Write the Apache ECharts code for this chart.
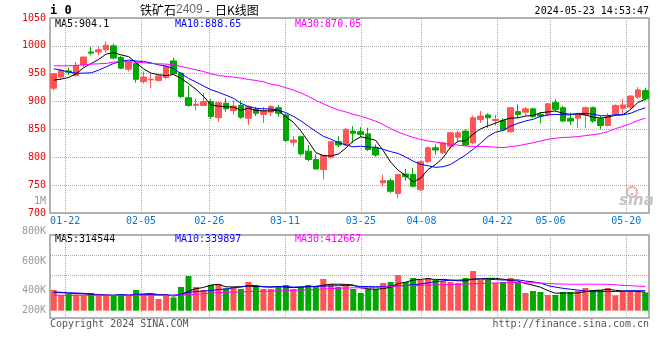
<!DOCTYPE html>
<html><head><meta charset="utf-8">
<script src="https://cdn.jsdelivr.net/npm/echarts@6/dist/echarts.min.js"></script>
<style>html,body{margin:0;padding:0;background:#fff}#c{width:660px;height:360px}</style>
</head><body><div id="c"></div>
<script>
// ---- data ----
const dates = ['01-18','01-19','01-22','01-23','01-24','01-25','01-26','01-29','01-30','01-31',
'02-01','02-02','02-05','02-06','02-07','02-08','02-19','02-20','02-21','02-22','02-23','02-26','02-27','02-28','02-29',
'03-01','03-04','03-05','03-06','03-07','03-08','03-11','03-12','03-13','03-14','03-15','03-18','03-19','03-20','03-21','03-22','03-25','03-26','03-27','03-28','03-29',
'04-01','04-02','04-03','04-08','04-09','04-10','04-11','04-12','04-15','04-16','04-17','04-18','04-19','04-22','04-23','04-24','04-25','04-26','04-29','04-30',
'05-06','05-07','05-08','05-09','05-10','05-13','05-14','05-15','05-16','05-17','05-20','05-21','05-22','05-23'];
const open  = [924,944,955,947,966,989,989,993,1000,979,958,968,936,939,938,943,973,951,907,893,893,900,871,897,884,893,870,886,877,881,889,876,827,837,811,796,778,800,828,822,847,846,842,817,754,758,735,770,769,742,792,817,808,820,836,847,826,868,876,866,866,846,882,881,887,877,877,898,889,870,870,876,889,869,857,878,888,890,908,920];
const close = [950,956,953,965,980,987,993,1001,978,960,971,940,944,940,946,963,950,909,893,895,900,873,898,887,892,872,891,879,883,891,879,830,831,806,796,779,803,828,822,850,843,841,814,804,758,739,769,765,748,792,817,813,826,844,844,822,871,874,871,868,849,889,877,887,873,874,896,886,865,865,876,889,865,857,873,893,894,910,921,905];
const low   = [920,940,948,945,961,983,983,988,976,958,954,934,932,924,936,940,948,906,891,884,892,869,864,882,876,869,858,874,862,874,873,828,820,803,793,778,760,798,818,821,826,836,811,801,748,736,726,758,746,740,790,805,806,815,828,820,823,862,853,857,847,844,870,874,871,861,874,882,863,858,853,852,862,851,855,876,878,886,905,902];
const high  = [951,958,961,971,980,998,998,1008,1004,982,973,972,954,950,948,965,979,953,928,905,915,905,900,906,902,902,893,890,890,894,894,879,838,839,822,805,805,829,838,853,856,854,853,823,769,762,770,779,781,794,820,823,828,846,848,850,875,883,879,876,870,890,895,890,889,881,897,904,892,880,877,891,891,874,879,895,905,911,926,925];
const ma5  = [938.5,940.3,943.3,949.8,960.8,968.2,975.6,985.2,987.8,983.8,980.6,970,958.6,951,948.2,946.6,948.6,941.6,932.2,922,909.4,894,891.8,890.6,890,884.4,888,884.2,883.4,883.2,884.6,872.4,862.8,847.4,828.4,808.4,803,802.4,805.6,816.4,829.2,836.8,834,830.4,812,791.2,776.8,767,755.8,762.6,778.2,787,799.2,818.4,828.8,829.8,841.4,851,856.4,861.2,866.6,870.2,870.8,874,875,880,881.4,883.2,878.8,877.2,877.6,876.2,872,870.4,872,875.4,876.4,885.4,898.2,904.1];
const ma10 = [958.8,956.4,952.8,951,951,951.6,956.4,962.4,968.4,972.3,974.4,972.8,971.9,969.4,966,963.6,959.3,950.1,941.6,935.1,928,921.3,916.7,911.4,906,896.9,891,888,887,886.6,884.5,880.2,873.5,865.4,855.8,846.5,837.7,832.6,826.5,822.4,818.8,819.9,818.2,818,814.2,810.2,806.8,800.5,793.1,787.3,784.7,781.9,783.1,787.1,795.7,804,814.2,825.1,837.4,845,848.2,855.8,860.9,865.2,868.1,873.3,875.8,877,876.4,876.1,878.8,878.8,877.6,874.6,874.6,876.5,876.3,878.7,884.3,888.65];
const ma30 = [964.2,964.2,964.2,964.8,966,967.2,967.8,968.4,970.8,972,971.4,970.8,969.6,968.4,967.8,967.2,966,963,960,957,954,949.8,946.8,945.1,943.9,942.1,939.7,937.9,935.5,931.3,929,924.8,920.7,915.4,909.3,902.3,896,890.2,885,881.4,877.1,873.8,869.5,864.9,858.7,851.2,845.2,840.4,835.5,832.1,829.3,827.3,824.9,823.5,821.9,820.2,819.6,819.4,819,818.2,817.2,819.2,820.7,823.4,826,829.2,832.3,834.2,835.6,836.1,837.2,838.8,840.5,842.3,846.1,851.3,855.4,860.3,866,870.05];
// volume in thousand lots
const volume = [352,260,284,272,260,301,250,250,250,284,250,352,284,284,199,250,226,403,590,403,352,437,454,379,403,369,488,413,369,369,420,437,369,403,437,420,539,454,403,420,369,301,369,369,471,488,607,488,556,522,556,522,505,488,471,556,675,522,522,471,488,556,488,301,335,318,267,267,318,318,340,386,352,352,386,260,335,335,335,310];
const vma5  = [317,312,300,292,285.6,275.4,273.4,266.6,262.2,267,256.8,277.2,284,290.8,273.8,273.8,248.6,272.4,333.6,374.4,394.8,437,447.2,405,405,408.4,418.6,410.4,408.4,401.6,411.8,401.6,392.8,399.6,413.2,413.2,433.6,450.6,450.6,447.2,437,389.4,372.4,365.6,375.8,399.6,460.8,484.6,522,532.2,545.8,528.8,532.2,518.6,508.4,508.4,539,542.4,549.2,549.2,535.6,511.8,505,460.8,433.6,399.6,341.8,297.6,301,297.6,302,325.8,342.8,349.6,363.2,347.2,337,333.6,330.2,314.544];
const vma10 = [306,306,303,300,295,285,270,265,262,276.3,266.1,275.3,275.3,276.5,270.4,265.3,262.9,278.2,312.2,324.1,334.3,342.8,359.8,369.3,389.7,401.6,427.8,428.8,406.7,403.3,410.1,410.1,401.6,404,407.4,412.5,417.6,421.7,425.1,430.2,425.1,411.5,411.5,408.1,411.5,418.3,425.1,428.5,443.8,454,472.7,494.8,508.4,520.3,520.3,527.1,533.9,537.3,533.9,528.8,522,525.4,523.7,505,491.4,467.6,426.8,401.3,380.9,365.6,350.8,333.8,320.2,325.3,330.4,324.6,331.4,338.2,339.9,339.897];
const vma30 = [263,262,262,263,263,262,262,261,261,262,262,263,263,262,262,262,263,266,272,280,290,300,308,312,316,320,325,328,331,334.6,336.8,342.7,345.6,349.9,355.8,359.8,369.4,376.2,381.3,385.9,389.8,388.1,391,393.8,402.9,410.8,423.5,426.3,425.2,429.2,436,438.8,440.5,444.1,446.4,452.6,458.9,462.5,467.6,471,473.3,477.2,481.2,477.8,474.4,471,461.9,455.7,452.9,449.5,448.5,451.3,450.8,450.2,447.4,439.8,430.7,425.6,418.2,412.667];
const xLabelDates = ['01-22','02-05','02-26','03-11','03-25','04-08','04-22','05-06','05-20'];
const volTickLabels = ['1M','800K','600K','400K','200K'];
const maTexts = ['MA5:904.1','MA10:888.65','MA30:870.05'];
const volMaTexts = ['MA5:314544','MA10:339897','MA30:412667'];

// ---- chart ----
const MONO = '"DejaVu Sans Mono","Liberation Mono",monospace';
const RED = '#ff5555', GREEN = '#00a800', GRIDC = '#aaaaaa';
const MA_COLORS = ['#000000', '#0000ff', '#ff00ff'];
const labelSet = new Set(xLabelDates.map(d => dates.indexOf(d)));
const volLabelPos = [6, 36, 66, 95, 115];
const dotted = {show: true, lineStyle: {color: GRIDC, type: 'dotted', width: 1}};

const candles = dates.map((d, i) => [open[i], close[i], low[i], high[i]]);
const volItems = volume.map((v, i) => ({value: v, itemStyle: {color: close[i] >= open[i] ? RED : GREEN}}));

function maLine(data, color, xi, yi) {
  return {type: 'line', data: data, xAxisIndex: xi, yAxisIndex: yi, showSymbol: false, symbol: 'none',
    lineStyle: {color: color, width: 1}, itemStyle: {color: color}, emphasis: {disabled: true}, silent: true, z: 5};
}
function txt(x, y, text, color, extra) {
  return Object.assign({type: 'text', x: x, y: y, silent: true,
    style: Object.assign({text: text, fill: color, font: '10px ' + MONO, align: 'left', verticalAlign: 'middle'}, extra || {})});
}

const chart = echarts.init(document.getElementById('c'));
chart.setOption({
  animation: false,
  backgroundColor: '#fff',
  grid: [
    {left: 50, right: 11, top: 18, height: 195, show: true, borderColor: '#999', borderWidth: 1.5},
    {left: 50, right: 11, top: 235, height: 83, show: true, borderColor: '#999', borderWidth: 1.5},
    {left: 50, right: 11, top: 195, height: 123},
    {left: 50, right: 11, top: 235, height: 60}
  ],
  xAxis: [
    {type: 'category', gridIndex: 0, data: dates, boundaryGap: true, show: false},
    {type: 'category', gridIndex: 0, data: dates, boundaryGap: false, position: 'bottom',
      axisLine: {show: false}, axisTick: {show: false},
      axisLabel: {interval: (i) => labelSet.has(i), color: '#0078d7', fontFamily: MONO, fontSize: 10, margin: 3},
      splitLine: Object.assign({interval: (i) => labelSet.has(i)}, dotted)},
    {type: 'category', gridIndex: 1, data: dates, boundaryGap: true, show: false},
    {type: 'category', gridIndex: 1, data: dates, boundaryGap: false,
      axisLine: {show: false}, axisTick: {show: false}, axisLabel: {show: false},
      splitLine: Object.assign({interval: (i) => labelSet.has(i)}, dotted)},
    {type: 'value', gridIndex: 2, min: 0, max: 1, show: false},
    {type: 'value', gridIndex: 3, min: 0, max: 1, show: false}
  ],
  yAxis: [
    {type: 'value', gridIndex: 0, min: 700, max: 1050, interval: 50,
      axisLine: {show: false}, axisTick: {show: false},
      axisLabel: {formatter: (v) => String(v), color: '#ee0000', fontFamily: MONO, fontSize: 10, margin: 4},
      splitLine: dotted},
    {type: 'value', gridIndex: 1, min: -124, max: 1287, show: false, splitLine: {show: false}},
    {type: 'value', gridIndex: 2, min: 0, max: 123, inverse: true,
      axisLine: {show: false}, axisTick: {show: false}, splitLine: {show: false},
      axisLabel: {customValues: volLabelPos, formatter: (v) => volTickLabels[volLabelPos.indexOf(v)] || '',
        color: '#999', fontFamily: MONO, fontSize: 10, margin: 4}},
    {type: 'value', gridIndex: 3, min: 0, max: 3, interval: 1,
      axisLine: {show: false}, axisTick: {show: false}, axisLabel: {show: false}, splitLine: dotted}
  ],
  series: [
    {type: 'candlestick', data: candles, xAxisIndex: 0, yAxisIndex: 0, barWidth: 6, silent: true,
      itemStyle: {color: RED, color0: GREEN, borderColor: RED, borderColor0: GREEN, borderWidth: 1}},
    maLine(ma5, MA_COLORS[0], 0, 0),
    maLine(ma10, MA_COLORS[1], 0, 0),
    maLine(ma30, MA_COLORS[2], 0, 0),
    {type: 'bar', data: volItems, xAxisIndex: 2, yAxisIndex: 1, barWidth: 6, silent: true},
    maLine(vma5, MA_COLORS[0], 2, 1),
    maLine(vma10, MA_COLORS[1], 2, 1),
    maLine(vma30, MA_COLORS[2], 2, 1)
  ],
  graphic: [
    txt(50, 11, 'i 0', '#000', {font: 'bold 12px ' + MONO}),
    {type: 'text', x: 140, y: 10, silent: true, style: {
      text: '{a|铁矿石}{b|2409}{a| -  日K线图}', verticalAlign: 'middle',
      rich: {a: {font: '12px "Noto Sans CJK SC"', fill: '#000'}, b: {font: '12px "Liberation Sans"', fill: '#666'}}}},
    txt(649, 11, '2024-05-23 14:53:47', '#000', {align: 'right'}),
    txt(55, 24, maTexts[0], MA_COLORS[0]),
    txt(175, 24, maTexts[1], MA_COLORS[1]),
    txt(295, 24, maTexts[2], MA_COLORS[2]),
    txt(55, 239, volMaTexts[0], MA_COLORS[0]),
    txt(175, 239, volMaTexts[1], MA_COLORS[1]),
    txt(295, 239, volMaTexts[2], MA_COLORS[2]),
    txt(50, 324, 'Copyright 2024 SINA.COM', '#555'),
    txt(649, 324, 'http://finance.sina.com.cn', '#555', {align: 'right'}),
    {type: 'circle', silent: true, shape: {cx: 632, cy: 192, r: 5}, style: {fill: 'none', stroke: '#f5a5a5', lineWidth: 2}},
    txt(619, 201, 'sina', '#c4c4c4', {font: 'italic bold 15px "DejaVu Sans"'})
  ]
});
</script>
</body></html>
